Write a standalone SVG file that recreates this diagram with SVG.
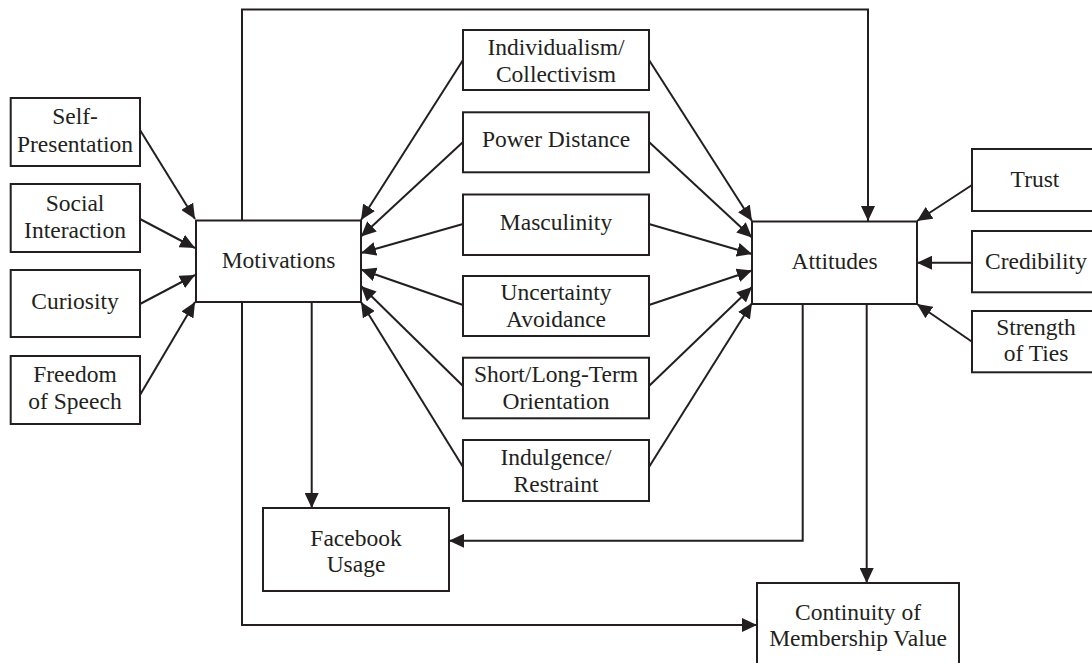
<svg xmlns="http://www.w3.org/2000/svg" width="1092" height="663" viewBox="0 0 1092 663">
<style>
.box{fill:#fff;stroke:#231f20;stroke-width:2}
.t{font-family:"Liberation Serif","Times New Roman",serif;font-size:23.5px;fill:#231f20;text-anchor:middle}
.c{fill:none;stroke:#231f20;stroke-width:2}
</style>
<defs>
<marker id="ah" markerUnits="userSpaceOnUse" markerWidth="15" markerHeight="14" refX="15" refY="7" orient="auto" viewBox="0 0 15 14">
<path d="M0,0 L15,7 L0,14 z" fill="#231f20"/>
</marker>
</defs>
<rect width="1092" height="663" fill="#fff"/>
<g id="connectors">
<path class="c" d="M242,220 V9.5 H868 V221" marker-end="url(#ah)"/>
<path class="c" d="M242,302 V625 H757" marker-end="url(#ah)"/>
<path class="c" d="M311.7,302 V508" marker-end="url(#ah)"/>
<path class="c" d="M802.7,304 V540.7 H449" marker-end="url(#ah)"/>
<path class="c" d="M866.7,304 V583" marker-end="url(#ah)"/>
<path class="c" d="M140,130 L195,219" marker-end="url(#ah)"/>
<path class="c" d="M140,219 L195,248" marker-end="url(#ah)"/>
<path class="c" d="M140,304 L195,275" marker-end="url(#ah)"/>
<path class="c" d="M140,395 L195,302" marker-end="url(#ah)"/>
<path class="c" d="M463,60 L361,220" marker-end="url(#ah)"/>
<path class="c" d="M463,142 L361,236.5" marker-end="url(#ah)"/>
<path class="c" d="M463,224 L361,253" marker-end="url(#ah)"/>
<path class="c" d="M463,305 L361,269.5" marker-end="url(#ah)"/>
<path class="c" d="M463,386 L361,286" marker-end="url(#ah)"/>
<path class="c" d="M463,467 L361,302" marker-end="url(#ah)"/>
<path class="c" d="M649,60 L752,221" marker-end="url(#ah)"/>
<path class="c" d="M649,142 L752,237.5" marker-end="url(#ah)"/>
<path class="c" d="M649,224 L752,254" marker-end="url(#ah)"/>
<path class="c" d="M649,305 L752,270.5" marker-end="url(#ah)"/>
<path class="c" d="M649,386 L752,287" marker-end="url(#ah)"/>
<path class="c" d="M649,467 L752,303" marker-end="url(#ah)"/>
<path class="c" d="M972,185 L917,221" marker-end="url(#ah)"/>
<path class="c" d="M972,262.7 L917,262.7" marker-end="url(#ah)"/>
<path class="c" d="M972,341.7 L917,304" marker-end="url(#ah)"/>
</g>
<g id="self-presentation"><rect class="box" x="10.7" y="98" width="129.3" height="68"/><text class="t" x="75" y="124">Self-</text><text class="t" x="75" y="151.5">Presentation</text></g>
<g id="social-interaction"><rect class="box" x="10.7" y="184" width="129.3" height="68"/><text class="t" x="75" y="210.5">Social</text><text class="t" x="75" y="238">Interaction</text></g>
<g id="curiosity"><rect class="box" x="10.7" y="270" width="129.3" height="67"/><text class="t" x="75" y="308.5">Curiosity</text></g>
<g id="freedom-of-speech"><rect class="box" x="10.7" y="356" width="129.3" height="68"/><text class="t" x="75" y="382">Freedom</text><text class="t" x="75" y="408.5">of Speech</text></g>
<g id="motivations"><rect class="box" x="196" y="220.5" width="165" height="81.5"/><text class="t" x="278.5" y="268">Motivations</text></g>
<g id="individualism"><rect class="box" x="463" y="30" width="186" height="60"/><text class="t" x="556" y="54.5">Individualism/</text><text class="t" x="556" y="81.5">Collectivism</text></g>
<g id="power-distance"><rect class="box" x="463" y="112.3" width="186" height="60"/><text class="t" x="556" y="147">Power Distance</text></g>
<g id="masculinity"><rect class="box" x="463" y="194.5" width="186" height="60.5"/><text class="t" x="556" y="230">Masculinity</text></g>
<g id="uncertainty-avoidance"><rect class="box" x="463" y="276" width="186" height="60"/><text class="t" x="556" y="300">Uncertainty</text><text class="t" x="556" y="327">Avoidance</text></g>
<g id="short-long-term"><rect class="box" x="463" y="357.7" width="186" height="60.6"/><text class="t" x="556" y="382">Short/Long-Term</text><text class="t" x="556" y="409">Orientation</text></g>
<g id="indulgence-restraint"><rect class="box" x="463" y="440" width="186" height="61"/><text class="t" x="556" y="464.5">Indulgence/</text><text class="t" x="556" y="491.5">Restraint</text></g>
<g id="attitudes"><rect class="box" x="752" y="221.5" width="165" height="82.5"/><text class="t" x="834.5" y="269">Attitudes</text></g>
<g id="trust"><rect class="box" x="972" y="149" width="130" height="62"/><text class="t" x="1035" y="187">Trust</text></g>
<g id="credibility"><rect class="box" x="972" y="231" width="130" height="61.3"/><text class="t" x="1036" y="269">Credibility</text></g>
<g id="strength-of-ties"><rect class="box" x="972" y="311" width="130" height="61.3"/><text class="t" x="1036" y="334.5">Strength</text><text class="t" x="1036" y="361">of Ties</text></g>
<g id="facebook-usage"><rect class="box" x="263" y="508" width="186" height="83"/><text class="t" x="356" y="545.5">Facebook</text><text class="t" x="356" y="572">Usage</text></g>
<g id="continuity"><rect class="box" x="757" y="583" width="202" height="90"/><text class="t" x="858" y="619.5">Continuity of</text><text class="t" x="858" y="646">Membership Value</text></g>
</svg>
